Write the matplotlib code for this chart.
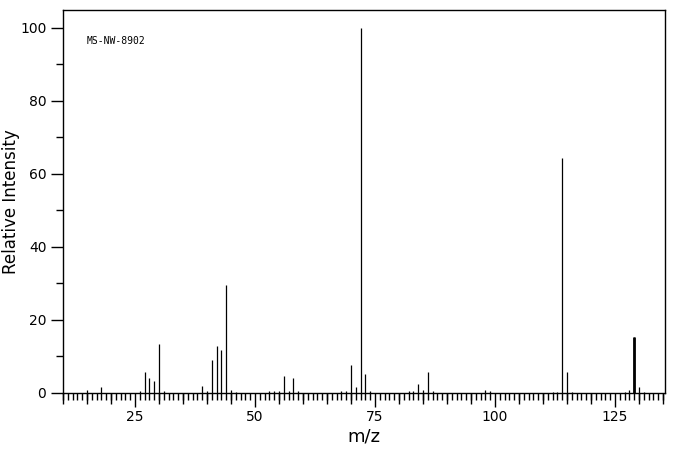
import numpy as np
import matplotlib.pyplot as plt
from matplotlib.ticker import MultipleLocator, NullFormatter

# m/z and relative intensity
mz = [15, 18, 26, 27, 28, 29, 30, 31, 39, 40, 41, 42, 43, 44, 45, 46,
      53, 54, 55, 56, 57, 58, 59, 68, 69, 70, 71, 72, 73, 74,
      82, 83, 84, 85, 86, 87, 98, 99, 112, 113, 114, 115, 116,
      127, 128, 129, 130, 131]
intensity = [0.9, 1.7, 0.5, 5.7, 4.2, 3.2, 13.3, 0.5, 2.0, 0.6, 9.1, 13.0, 11.9, 29.6, 0.9, 0.3,
             0.5, 0.6, 0.6, 4.6, 0.6, 4.2, 0.5, 0.6, 0.6, 7.6, 1.7, 100.0, 5.1, 0.5,
             0.5, 0.5, 2.6, 0.7, 5.7, 0.5, 0.9, 0.6, 0.4, 0.4, 64.4, 5.7, 0.4,
             0.4, 0.9, 15.4, 1.7, 0.4]
label = "MS-NW-8902"

fig = plt.figure(figsize=(6.76, 4.55), dpi=100)
ax = fig.add_axes([63 / 676, 1 - 393 / 455, (665 - 63) / 676, (393 - 10) / 455])

ax.vlines(mz, 0, intensity, colors="black", linewidth=0.9)
# the m/z 129 line is drawn heavier in the reference
i129 = mz.index(129)
ax.vlines([mz[i129]], 0, [intensity[i129]], colors="black", linewidth=2.0)

ax.set_xlim(10, 135.4)
ax.set_ylim(0, 104.9)

ax.xaxis.set_major_locator(MultipleLocator(25))
ax.xaxis.set_minor_locator(MultipleLocator(1))
ax.yaxis.set_major_locator(MultipleLocator(20))
ax.yaxis.set_minor_locator(MultipleLocator(10))

ax.tick_params(axis="x", which="major", length=10, width=1, direction="out", labelsize=10, pad=2)
ax.tick_params(axis="x", which="minor", length=5, width=1, direction="out")
ax.tick_params(axis="y", which="major", length=9, width=1, direction="out", labelsize=10, pad=3)
ax.tick_params(axis="y", which="minor", length=5, width=1, direction="out")

# medium ticks every 5 units
sec = ax.secondary_xaxis("bottom")
sec.set_xticks([v for v in range(10, 136, 5) if v % 25 != 0])
sec.xaxis.set_major_formatter(NullFormatter())
sec.tick_params(axis="x", which="major", length=8, width=1, direction="out")
sec.spines["bottom"].set_visible(False)

for s in ax.spines.values():
    s.set_linewidth(1)

ax.set_xlabel("m/z", fontsize=13, labelpad=3)
fig.text(11 / 676, 1 - 202 / 455, "Relative Intensity", fontsize=12, rotation=90,
         ha="center", va="center")
ax.text(15, 96.4, label, fontsize=7, family="DejaVu Sans Mono", va="center")

fig.savefig("out.png", dpi=100)
